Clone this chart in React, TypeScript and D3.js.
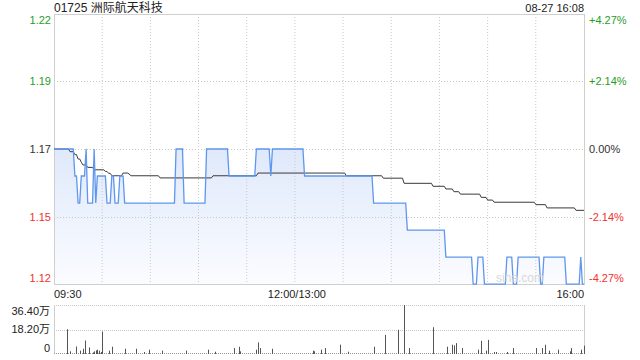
import React from "react";
import * as d3 from "d3";

const title = "01725 洲际航天科技";
const stamp = "08-27 16:08";
const prevClose = 1.17;

const pctTicks = [4.27, 2.14, 0, -2.14, -4.27];
const priceLabels = ["1.22", "1.19", "1.17", "1.15", "1.12"];
const pctLabels = ["+4.27%", "+2.14%", "0.00%", "-2.14%", "-4.27%"];

const timeTickMinutes = [0, 150, 330];
const timeTickLabels = ["09:30", "12:00/13:00", "16:00"];

const volTicks = [36.4, 18.2, 0];
const volLabels = ["36.40万", "18.20万", "0"];

// price line: [minute, price]
const priceMinutes = [0, 12, 13, 14, 15, 16, 17, 19, 20, 21, 24, 25, 26, 27, 32, 33, 35, 36, 37, 38, 40, 41, 43, 44, 75, 76, 80, 81, 94, 95, 108, 109, 125, 126, 134, 135, 136, 155, 156, 198, 199, 219, 220, 243, 244, 260, 261, 263, 264, 267, 268, 281, 282, 285, 286, 288, 289, 302, 303, 304, 305, 318, 319, 327, 328, 329, 330];
const priceValues = [1.17, 1.17, 1.16, 1.16, 1.15, 1.15, 1.16, 1.16, 1.17, 1.15, 1.15, 1.17, 1.15, 1.16, 1.16, 1.15, 1.15, 1.16, 1.16, 1.15, 1.15, 1.16, 1.16, 1.15, 1.15, 1.17, 1.17, 1.15, 1.15, 1.17, 1.17, 1.16, 1.16, 1.17, 1.17, 1.16, 1.17, 1.17, 1.16, 1.16, 1.15, 1.15, 1.14, 1.14, 1.13, 1.13, 1.12, 1.12, 1.13, 1.13, 1.12, 1.12, 1.13, 1.13, 1.12, 1.12, 1.13, 1.13, 1.12, 1.12, 1.13, 1.13, 1.12, 1.12, 1.13, 1.12, 1.12];

// average price line
const avgMinutes = [0, 9, 10, 12, 13, 14, 15, 16, 17, 18, 20, 21, 24, 25, 31, 32, 33, 34, 35, 36, 42, 43, 46, 48, 65, 66, 98, 99, 126, 127, 181, 182, 204, 205, 217, 218, 235, 236, 243, 244, 248, 249, 252, 253, 265, 266, 269, 270, 273, 274, 299, 300, 306, 307, 324, 325, 330];
const avgValues = [1.17, 1.17, 1.169, 1.169, 1.1679, 1.1679, 1.1663, 1.1663, 1.1651, 1.1641, 1.1641, 1.1632, 1.1632, 1.1623, 1.1623, 1.1617, 1.1617, 1.161, 1.161, 1.1601, 1.1601, 1.1611, 1.1611, 1.1601, 1.1601, 1.1593, 1.1593, 1.1601, 1.1601, 1.1611, 1.1611, 1.1601, 1.1601, 1.1592, 1.1592, 1.1573, 1.1573, 1.1562, 1.1562, 1.1552, 1.1552, 1.1542, 1.1542, 1.1533, 1.1533, 1.1521, 1.1521, 1.1511, 1.1511, 1.1503, 1.1503, 1.1494, 1.1494, 1.1482, 1.1482, 1.1473, 1.1473];

// volume bars (万): minute, volume
const volMinutes = [8, 10, 14, 16, 18, 19, 22, 24, 25, 26, 27, 28, 29, 30, 34, 36, 44, 51, 56, 59, 67, 82, 96, 100, 112, 115, 116, 126, 127, 128, 136, 161, 162, 166, 169, 178, 183, 199, 206, 214, 218, 221, 236, 245, 248, 249, 250, 254, 264, 266, 269, 270, 274, 275, 282, 286, 300, 304, 306, 308, 314, 321, 322, 328, 330];
const volValues = [18.4, 2.0, 5.6, 2.5, 3.9, 10.0, 4.9, 1.2, 2.0, 2.7, 3.2, 2.5, 1.5, 16.7, 2.5, 5.4, 3.9, 3.9, 1.5, 3.2, 2.5, 2.5, 3.2, 1.7, 4.4, 5.4, 2.0, 3.2, 8.6, 4.4, 3.9, 2.5, 2.0, 3.2, 4.4, 6.9, 1.7, 5.4, 14.2, 17.9, 36.3, 4.4, 19.9, 5.4, 6.9, 6.4, 8.1, 4.4, 3.2, 9.8, 2.5, 10.5, 1.5, 1.5, 1.5, 4.4, 4.4, 4.4, 6.9, 2.5, 3.2, 2.0, 4.4, 3.2, 6.2];

const W = 640;
const H = 360;
const L = 54;
const R = 584;
const T = 14;
const B = 284;
const VT = 305;
const VB = 354;

const FONT = "Arial, 'Liberation Sans', sans-serif";
const GREEN = "#1f9e1f";
const RED = "#f2322d";
const DARK = "#333";

export default function App() {
  const x = d3.scaleLinear().domain([0, 330]).range([L, R]);
  const y = d3
    .scaleLinear()
    .domain([prevClose * (1 - 0.0427), prevClose * (1 + 0.0427)])
    .range([B, T]);
  const yv = d3.scaleLinear().domain([0, 36.4]).range([VB, VT]);

  const pricePts = priceMinutes.map((m, i) => [m, priceValues[i]] as [number, number]);
  const avgPts = avgMinutes.map((m, i) => [m, avgValues[i]] as [number, number]);

  const line = d3
    .line<[number, number]>()
    .x((d) => x(d[0]))
    .y((d) => y(d[1]));
  const area = d3
    .area<[number, number]>()
    .x((d) => x(d[0]))
    .y0(B)
    .y1((d) => y(d[1]));

  const vGrid = d3.range(1, 11).map((k) => k * 30);

  const colorFor = (i: number) => (i < 2 ? GREEN : i === 2 ? DARK : RED);
  const labelY = (i: number) => {
    const yy = y(prevClose * (1 + pctTicks[i] / 100));
    if (i === 0) return yy + 6;
    if (i === pctTicks.length - 1) return yy - 6;
    return yy;
  };

  return (
    <svg
      width={W}
      height={H}
      style={{ position: "fixed", left: 0, top: 0, background: "#fff" }}
      fontFamily={FONT}
    >
      <defs>
        <linearGradient id="fillGrad" x1="0" y1="0" x2="0" y2="1">
          <stop offset="0%" stopColor="#dfe9fb" />
          <stop offset="100%" stopColor="#fbfcff" />
        </linearGradient>
      </defs>

      {/* title */}
      <text x={L} y={12} fontSize={12} fill="#222" fontFamily={`${FONT}, 'Noto Sans CJK SC'`}>
        {title}
      </text>
      <text x={R} y={12} fontSize={11} fill="#222" textAnchor="end">
        {stamp}
      </text>

      {/* area fill */}
      <path d={area(pricePts) ?? ""} fill="url(#fillGrad)" />

      {/* gridlines */}
      {vGrid.map((m) => (
        <line
          key={"vg" + m}
          x1={x(m)}
          x2={x(m)}
          y1={T}
          y2={B}
          stroke="#c8c8c8"
          strokeDasharray="1,2"
        />
      ))}
      {pctTicks.slice(1, 4).map((p) => (
        <line
          key={"hg" + p}
          x1={L}
          x2={R}
          y1={Math.round(y(prevClose * (1 + p / 100))) + 0.5}
          y2={Math.round(y(prevClose * (1 + p / 100))) + 0.5}
          stroke="#c8c8c8"
          strokeDasharray="1,2"
        />
      ))}
      <rect x={L + 0.5} y={T + 0.5} width={R - L} height={B - T} fill="none" stroke="#cfcfcf" />

      {/* lines */}
      <path d={line(avgPts) ?? ""} fill="none" stroke="#3a3a3a" strokeWidth={1} />
      <path d={line(pricePts) ?? ""} fill="none" stroke="#5f96ee" strokeWidth={1.3} />

      {/* watermark */}
      <text x={520} y={282} fontSize={12} fill="#d8d8d8" textAnchor="middle">
        sina.com
      </text>

      {/* y labels */}
      {priceLabels.map((t, i) => (
        <text
          key={"pl" + i}
          x={L - 3}
          y={labelY(i)}
          dy="0.35em"
          fontSize={11}
          fill={colorFor(i)}
          textAnchor="end"
        >
          {t}
        </text>
      ))}
      {pctLabels.map((t, i) => (
        <text
          key={"pc" + i}
          x={R + 5}
          y={labelY(i)}
          dy="0.35em"
          fontSize={11}
          fill={colorFor(i)}
          textAnchor="start"
        >
          {t}
        </text>
      ))}

      {/* time labels */}
      {timeTickLabels.map((t, i) => (
        <text
          key={"tl" + i}
          x={x(timeTickMinutes[i]) + (i === 1 ? 2 : 0)}
          y={298}
          fontSize={11}
          fill="#222"
          textAnchor={i === 0 ? "start" : i === 1 ? "middle" : "end"}
        >
          {t}
        </text>
      ))}

      {/* volume panel */}
      {volTicks.slice(0, 2).map((v) => (
        <line
          key={"vl" + v}
          x1={L}
          x2={R}
          y1={Math.round(yv(v)) + 0.5}
          y2={Math.round(yv(v)) + 0.5}
          stroke="#c8c8c8"
          strokeDasharray="1,1"
        />
      ))}
      <line x1={L + 0.5} x2={L + 0.5} y1={VT} y2={VB} stroke="#cfcfcf" />
      <line x1={R + 0.5} x2={R + 0.5} y1={VT} y2={VB} stroke="#cfcfcf" />
      <line x1={L} x2={R} y1={VB - 0.5} y2={VB - 0.5} stroke="#999" strokeDasharray="1,1" />
      {volMinutes.map((m, i) => (
        <rect
          key={"vb" + i}
          x={Math.round(x(m))}
          y={yv(volValues[i])}
          width={1}
          height={VB - yv(volValues[i])}
          fill="#555"
        />
      ))}
      {volLabels.map((t, i) => {
        let yy = yv(volTicks[i]);
        if (i === 0) yy += 6;
        if (i === 2) yy -= 6;
        return (
          <text
            key={"vlb" + i}
            x={L - 4}
            y={yy}
            dy="0.35em"
            fontSize={11}
            fill="#222"
            textAnchor="end"
            fontFamily={`${FONT}, 'Noto Sans CJK SC'`}
          >
            {t}
          </text>
        );
      })}
    </svg>
  );
}
